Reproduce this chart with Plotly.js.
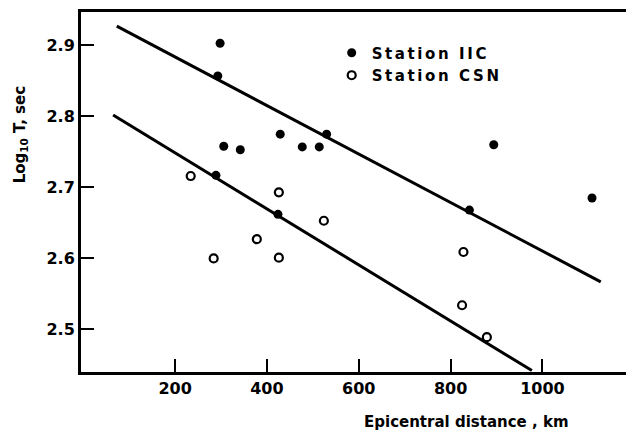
<!DOCTYPE html>
<html>
<head>
<meta charset="utf-8">
<script src="https://cdn.plot.ly/plotly-3.0.1.min.js"></script>
<style>
html,body{margin:0;padding:0;background:#fff;}
#chart{width:626px;height:431px;}
#chart .legendtext{letter-spacing:2.6px;}
#chart .legend .scrollbox{clip-path:none !important;}
</style>
</head>
<body>
<div id="chart"></div>
<script>
// Station IIC (filled circles)
const iicDistance = [298, 293, 306, 342, 429, 477, 514, 530, 894, 1108, 841, 289, 424];
const iicLogT     = [2.903, 2.857, 2.758, 2.753, 2.775, 2.757, 2.757, 2.775, 2.760, 2.685, 2.668, 2.717, 2.662];
// Station CSN (open circles)
const csnDistance = [234, 426, 378, 284, 426, 524, 828, 825, 879];
const csnLogT     = [2.716, 2.693, 2.627, 2.600, 2.601, 2.653, 2.609, 2.534, 2.489];
// Fitted lines (end points)
const iicFitX = [73, 1127];
const iicFitY = [2.927, 2.567];
const csnFitX = [65, 977];
const csnFitY = [2.802, 2.442];
// Ticks and titles
const xTicks = [200, 400, 600, 800, 1000];
const yTicks = [2.5, 2.6, 2.7, 2.8, 2.9];
const xTitle = 'Epicentral distance , km';
const yTitle = 'Log<sub>10</sub> T, sec';

const traces = [
  {x: iicFitX, y: iicFitY, mode: 'lines', line: {color: '#000', width: 3}, showlegend: false, hoverinfo: 'skip'},
  {x: csnFitX, y: csnFitY, mode: 'lines', line: {color: '#000', width: 3}, showlegend: false, hoverinfo: 'skip'},
  {x: iicDistance, y: iicLogT, mode: 'markers', name: 'Station IIC',
   marker: {symbol: 'circle', size: 9, color: '#000'}},
  {x: csnDistance, y: csnLogT, mode: 'markers', name: 'Station CSN',
   marker: {symbol: 'circle-open', size: 8, color: '#000', line: {width: 2.2, color: '#000'}}}
];

const titleFont = {family: 'DejaVu Sans', size: 15, weight: 'bold', color: '#000'};

const layout = {
  width: 626, height: 431,
  margin: {l: 81, r: 0, t: 12, b: 59},
  paper_bgcolor: '#fff', plot_bgcolor: '#fff',
  showlegend: true,
  legend: {x: 0.46, y: 0.932, xanchor: 'left', yanchor: 'top',
           font: {family: 'DejaVu Sans', size: 15, weight: 'bold', color: '#000'},
           bgcolor: 'rgba(0,0,0,0)', tracegroupgap: 0, itemwidth: 30},
  xaxis: {
    range: [-4.9, 1182], showgrid: false, zeroline: false,
    showline: true, linewidth: 3, linecolor: '#000', mirror: true,
    ticks: 'inside', ticklen: 13, tickwidth: 2, tickcolor: '#000',
    tickvals: xTicks, ticktext: xTicks.map(String),
    tickfont: {family: 'DejaVu Sans', size: 16, weight: 'bold', color: '#000'}
  },
  yaxis: {
    range: [2.44, 2.947], showgrid: false, zeroline: false,
    showline: true, linewidth: 3, linecolor: '#000', mirror: false,
    ticks: 'inside', ticklen: 13, tickwidth: 2, tickcolor: '#000',
    tickvals: yTicks, ticktext: yTicks.map(v => v.toFixed(1)),
    tickfont: {family: 'DejaVu Sans', size: 16, weight: 'bold', color: '#000'}
  },
  annotations: [
    {text: xTitle, xref: 'paper', yref: 'paper', x: 0.708, y: -0.138,
     xanchor: 'center', yanchor: 'middle', showarrow: false, font: titleFont},
    {text: yTitle, xref: 'paper', yref: 'paper', x: -0.112, y: 0.66,
     xanchor: 'center', yanchor: 'middle', textangle: -90, showarrow: false, font: titleFont}
  ]
};

Plotly.newPlot('chart', traces, layout, {displayModeBar: false, staticPlot: true});
</script>
</body>
</html>
